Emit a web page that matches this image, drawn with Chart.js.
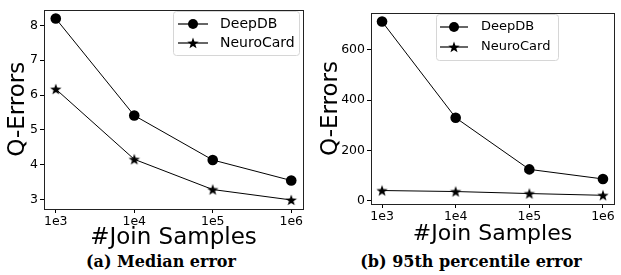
<!DOCTYPE html>
<html>
<head>
<meta charset="utf-8">
<script src="https://cdn.jsdelivr.net/npm/chart.js@4.4.1/dist/chart.umd.min.js"></script>
<style>
  html, body { margin: 0; padding: 0; background: #fff; }
  body { width: 621px; height: 275px; position: relative; overflow: hidden; }
  canvas { position: absolute; top: 0; }
  #left { left: 0; }
  #right { left: 310px; }
  .caption {
    position: absolute; top: 254px; height: 16px; line-height: 16px;
    font-family: 'DejaVu Serif', serif; font-weight: bold; font-size: 16px;
    color: #000; white-space: nowrap; transform: translateX(-50%);
  }
</style>
</head>
<body>
<canvas id="left" width="310" height="250"></canvas>
<canvas id="right" width="311" height="245"></canvas>
<div class="caption" style="left:161px">(a) Median error</div>
<div class="caption" style="left:471px">(b) 95th percentile error</div>
<script>
// ---- data ----
const xLabels = ['1e3', '1e4', '1e5', '1e6'];
const seriesNames = ['DeepDB', 'NeuroCard'];

const medianDeepDB = [8.2, 5.41, 4.13, 3.54];
const medianNeuroCard = [6.17, 4.15, 3.28, 2.98];
const medianTicks = [3, 4, 5, 6, 7, 8];

const p95DeepDB = [712, 330, 125, 87];
const p95NeuroCard = [41, 37, 29, 22];
const p95Ticks = [0, 200, 400, 600];

Chart.defaults.font.family = "'DejaVu Sans', sans-serif";
Chart.defaults.color = '#000';

// filled five-point star, like matplotlib's '*'
function starCanvas(r) {
  const s = Math.ceil(r * 2 + 2);
  const c = document.createElement('canvas');
  c.width = c.height = s;
  const g = c.getContext('2d');
  g.translate(s / 2, s / 2 + 0.5);
  g.beginPath();
  for (let i = 0; i < 10; i++) {
    const rad = i % 2 === 0 ? r : r * 0.4;
    const ang = -Math.PI / 2 + i * Math.PI / 5;
    const px = Math.cos(ang) * rad, py = Math.sin(ang) * rad;
    if (i === 0) g.moveTo(px, py); else g.lineTo(px, py);
  }
  g.closePath();
  g.fillStyle = '#000';
  g.fill();
  return c;
}
const STAR = starCanvas(6);

function toPoints(values) {
  return values.map(function (v, i) { return { x: i, y: v }; });
}

// frame around the plot area + matplotlib-like legend box
const mplDecor = {
  id: 'mplDecor',
  afterDraw(chart, args, opts) {
    const ctx = chart.ctx;
    const a = chart.chartArea;
    ctx.save();
    ctx.strokeStyle = '#222';
    ctx.lineWidth = 1;
    const l = Math.round(a.left) + 0.5, t = Math.round(a.top) + 0.5;
    ctx.strokeRect(l, t, Math.round(a.right) - Math.round(a.left), Math.round(a.bottom) - Math.round(a.top));

    const L = opts.legend;
    ctx.beginPath();
    ctx.roundRect(L.x + 0.5, L.y + 0.5, L.w, L.h, 3);
    ctx.fillStyle = 'rgba(255,255,255,0.85)';
    ctx.fill();
    ctx.strokeStyle = '#d6d6d6';
    ctx.stroke();

    chart.data.datasets.forEach(function (ds, i) {
      const y = L.rows[i];
      ctx.beginPath();
      ctx.moveTo(L.line[0], y);
      ctx.lineTo(L.line[1], y);
      ctx.strokeStyle = '#000';
      ctx.lineWidth = 1.2;
      ctx.stroke();
      const mx = (L.line[0] + L.line[1]) / 2;
      if (ds.pointStyle === 'circle') {
        ctx.beginPath();
        ctx.arc(mx, y, 5, 0, Math.PI * 2);
        ctx.fillStyle = '#000';
        ctx.fill();
      } else {
        ctx.drawImage(ds.pointStyle, mx - ds.pointStyle.width / 2, y - ds.pointStyle.height / 2);
      }
      ctx.fillStyle = '#000';
      ctx.font = L.font + "px 'DejaVu Sans', sans-serif";
      ctx.textBaseline = 'middle';
      ctx.textAlign = 'left';
      ctx.fillText(ds.label, L.textX, y);
    });
    ctx.restore();
  }
};

function makeChart(id, deep, neuro, yTicks, yMin, yMax, cfg) {
  return new Chart(document.getElementById(id), {
    type: 'line',
    data: {
      datasets: [
        {
          label: seriesNames[0], data: toPoints(deep),
          borderColor: '#000', borderWidth: 1, backgroundColor: '#000',
          pointStyle: 'circle', pointRadius: 5.3, pointHoverRadius: 5.3,
          pointBorderWidth: 0
        },
        {
          label: seriesNames[1], data: toPoints(neuro),
          borderColor: '#000', borderWidth: 1, backgroundColor: '#000',
          pointStyle: STAR, pointRadius: 6, pointHoverRadius: 6
        }
      ]
    },
    options: {
      responsive: false,
      animation: false,
      events: [],
      layout: { padding: { top: cfg.padTop, right: cfg.padRight, left: 0, bottom: 0 } },
      plugins: {
        legend: { display: false },
        tooltip: { enabled: false },
        mplDecor: { legend: cfg.legend }
      },
      scales: {
        x: {
          type: 'linear', min: -0.15, max: 3.15,
          afterBuildTicks: function (s) { s.ticks = xLabels.map(function (_, i) { return { value: i }; }); },
          afterFit: function (s) { s.height = 41; },
          ticks: {
            font: { size: 12.5 }, padding: 1, maxRotation: 0, autoSkip: false,
            callback: function (v) { return xLabels[v]; }
          },
          grid: { drawOnChartArea: false, tickLength: 4, color: '#000', lineWidth: 1 },
          border: { display: false },
          title: {
            display: true, text: '#Join Samples',
            font: { size: cfg.titleSize, lineHeight: 1 }, padding: 0
          }
        },
        y: {
          type: 'linear', min: yMin, max: yMax,
          afterBuildTicks: function (s) { s.ticks = yTicks.map(function (v) { return { value: v }; }); },
          afterFit: function (s) { s.width = cfg.yWidth; },
          ticks: { font: { size: 12.5 }, padding: 2 },
          grid: { drawOnChartArea: false, tickLength: 4, color: '#000', lineWidth: 1 },
          border: { display: false },
          title: {
            display: true, text: 'Q-Errors',
            font: { size: 23, lineHeight: 1 }, padding: { top: cfg.yTitlePad, bottom: 0 }
          }
        }
      }
    },
    plugins: [mplDecor]
  });
}

makeChart('left', medianDeepDB, medianNeuroCard, medianTicks, 2.72, 8.46, {
  padTop: 4, padRight: 4, yWidth: 44, yTitlePad: 7, titleSize: 23,
  legend: { x: 173, y: 11, w: 126, h: 44, rows: [24, 43], line: [178, 208], textX: 220, font: 14 }
});

makeChart('right', p95DeepDB, p95NeuroCard, p95Ticks, -12.5, 746, {
  padTop: 13, padRight: 1, yWidth: 61, yTitlePad: 10, titleSize: 22,
  legend: { x: 126, y: 14, w: 122, h: 46, rows: [27, 47], line: [130, 158], textX: 171, font: 13 }
});
</script>
</body>
</html>
